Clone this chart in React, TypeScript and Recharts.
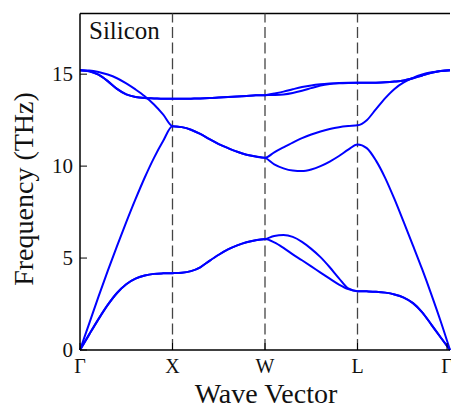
import { LineChart, Line, XAxis, YAxis, ReferenceLine } from "recharts";

// path coordinate: 0 = Γ, 1 = X, 2 = W, 3 = L, 4 = Γ
const QS = [
  0, 0.1, 0.2, 0.3, 0.4, 0.5, 0.6, 0.7, 0.8, 0.9,
  1, 1.1, 1.2, 1.3, 1.4, 1.5, 1.6, 1.7, 1.8, 1.9,
  2, 2.1, 2.2, 2.3, 2.4, 2.5, 2.6, 2.7, 2.8, 2.9,
  3, 3.1, 3.2, 3.3, 3.4, 3.5, 3.6, 3.7, 3.8, 3.9, 4,
];
const SYMMETRY_POINTS = [0, 1, 2, 3, 4];
const SYMMETRY_LABELS = ["Γ", "X", "W", "L", "Γ"];
const FREQ_TICKS = [0, 5, 10, 15];

// phonon branches (THz)
const TA1 = [
  0, 0.85, 1.68, 2.45, 3.1, 3.58, 3.88, 4.05, 4.14, 4.17,
  4.18, 4.2, 4.29, 4.5, 4.85, 5.18, 5.47, 5.69, 5.86, 5.97,
  6.03, 5.85, 5.55, 5.2, 4.88, 4.55, 4.21, 3.88, 3.56, 3.31,
  3.2, 3.19, 3.17, 3.12, 3.02, 2.85, 2.55, 2.05, 1.37, 0.68, 0,
];
const TA2 = [
  0, 0.85, 1.68, 2.45, 3.1, 3.58, 3.88, 4.05, 4.14, 4.17,
  4.18, 4.2, 4.29, 4.5, 4.85, 5.18, 5.47, 5.69, 5.86, 5.97,
  6.03, 6.2, 6.25, 6.15, 5.88, 5.5, 5.05, 4.5, 3.9, 3.35,
  3.2, 3.19, 3.17, 3.12, 3.02, 2.85, 2.55, 2.05, 1.37, 0.68, 0,
];
const LA = [
  0, 1.45, 2.9, 4.3, 5.65, 6.95, 8.2, 9.38, 10.45, 11.38,
  12.17, 12.12, 11.98, 11.75, 11.47, 11.2, 10.98, 10.78, 10.62, 10.52,
  10.45, 10.1, 9.88, 9.76, 9.73, 9.82, 10.0, 10.25, 10.55, 10.9,
  11.18, 10.98, 10.3, 9.35, 8.2, 6.95, 5.68, 4.38, 3.0, 1.55, 0,
];
const LO = [
  15.22, 15.2, 15.12, 14.98, 14.78, 14.5, 14.17, 13.8, 13.35, 12.8,
  12.17, 12.12, 11.98, 11.75, 11.47, 11.2, 10.98, 10.78, 10.62, 10.52,
  10.45, 10.75, 11.02, 11.28, 11.52, 11.72, 11.88, 12.02, 12.12, 12.18,
  12.22, 12.5, 13.1, 13.7, 14.2, 14.55, 14.8, 14.98, 15.1, 15.18, 15.22,
];
const TO1 = [
  15.22, 15.16, 14.97, 14.62, 14.2, 13.9, 13.76, 13.7, 13.68, 13.66,
  13.66, 13.66, 13.67, 13.68, 13.7, 13.73, 13.76, 13.79, 13.82, 13.85,
  13.86, 13.87, 13.9, 13.98, 14.1, 14.24, 14.38, 14.46, 14.5, 14.52,
  14.53, 14.53, 14.54, 14.56, 14.6, 14.66, 14.78, 14.93, 15.07, 15.17, 15.22,
];
const TO2 = [
  15.22, 15.16, 14.97, 14.62, 14.2, 13.9, 13.76, 13.7, 13.68, 13.66,
  13.66, 13.66, 13.67, 13.68, 13.7, 13.73, 13.76, 13.79, 13.82, 13.85,
  13.86, 13.95, 14.05, 14.18, 14.3, 14.39, 14.45, 14.49, 14.52, 14.53,
  14.53, 14.53, 14.54, 14.56, 14.6, 14.66, 14.78, 14.93, 15.07, 15.17, 15.22,
];

const BRANCHES = { ta1: TA1, ta2: TA2, la: LA, lo: LO, to1: TO1, to2: TO2 };

const data = QS.map((q, i) => {
  const row: Record<string, number> = { q };
  Object.entries(BRANCHES).forEach(([key, vals]) => {
    row[key] = vals[i];
  });
  return row;
});

const FONT = "Liberation Serif";
const Y_MAX = 18.3;

function LeftTick({ x, y, payload }: any) {
  return (
    <g>
      <line x1={x} x2={x + 7} y1={y} y2={y} stroke="#000" strokeWidth={1} />
      <text x={x - 7} y={y + 7} textAnchor="end" fontSize={21} fontFamily={FONT} fill="#111">
        {payload.value}
      </text>
    </g>
  );
}

function RightTick({ x, y }: any) {
  return <line x1={x - 7} x2={x} y1={y} y2={y} stroke="#000" strokeWidth={1} />;
}

function BottomTick({ x, y, payload }: any) {
  const idx = SYMMETRY_POINTS.indexOf(payload.value);
  return (
    <g>
      <line x1={x} x2={x} y1={y} y2={y - 7} stroke="#000" strokeWidth={1} />
      <text x={x} y={y + 23} textAnchor="middle" fontSize={20} fontFamily={FONT} fill="#111">
        {SYMMETRY_LABELS[idx]}
      </text>
    </g>
  );
}

export default function App() {
  return (
    <div style={{ position: "fixed", left: 0, top: 0, width: 451, height: 408, background: "#fff" }}>
      <LineChart
        width={451}
        height={408}
        data={data}
        margin={{ top: 13.5, right: 1, bottom: 0, left: 0 }}
      >
        <XAxis
          dataKey="q"
          type="number"
          domain={[0, 4]}
          ticks={SYMMETRY_POINTS}
          height={58}
          tickSize={0}
          tickMargin={0}
          tickLine={false}
          tick={<BottomTick />}
          axisLine={{ stroke: "#000", strokeWidth: 1.5 }}
          label={() => (
            <text x={266} y={403} textAnchor="middle" fontSize={28} fontFamily={FONT} fill="#111">
              Wave Vector
            </text>
          )}
        />
        <YAxis
          type="number"
          domain={[0, Y_MAX]}
          ticks={FREQ_TICKS}
          width={80}
          tickSize={0}
          tickMargin={0}
          tickLine={false}
          tick={<LeftTick />}
          axisLine={{ stroke: "#000", strokeWidth: 1.5 }}
          label={() => (
            <text
              transform="translate(33,189) rotate(-90)"
              textAnchor="middle"
              fontSize={28}
              fontFamily={FONT}
              fill="#111"
            >
              Frequency (THz)
            </text>
          )}
        />
        <YAxis
          yAxisId="right"
          orientation="right"
          type="number"
          domain={[0, Y_MAX]}
          ticks={FREQ_TICKS}
          width={0}
          tickSize={0}
          tickMargin={0}
          tickLine={false}
          tick={<RightTick />}
          axisLine={{ stroke: "#000", strokeWidth: 1.5 }}
        />
        <ReferenceLine y={Y_MAX} stroke="#000" strokeWidth={1.5} />
        {[1, 2, 3].map((q) => (
          <ReferenceLine key={q} x={q} stroke="#444" strokeWidth={1.3} strokeDasharray="11 4.6" />
        ))}
        {Object.keys(BRANCHES).map((key) => (
          <Line
            key={key}
            dataKey={key}
            type="monotone"
            stroke="#0000ff"
            strokeWidth={2}
            dot={false}
            activeDot={false}
            isAnimationActive={false}
          />
        ))}
      </LineChart>
      <div
        style={{
          position: "absolute",
          left: 89,
          top: 18,
          fontFamily: FONT,
          fontSize: 25,
          lineHeight: "25px",
          color: "#111",
        }}
      >
        Silicon
      </div>
    </div>
  );
}
